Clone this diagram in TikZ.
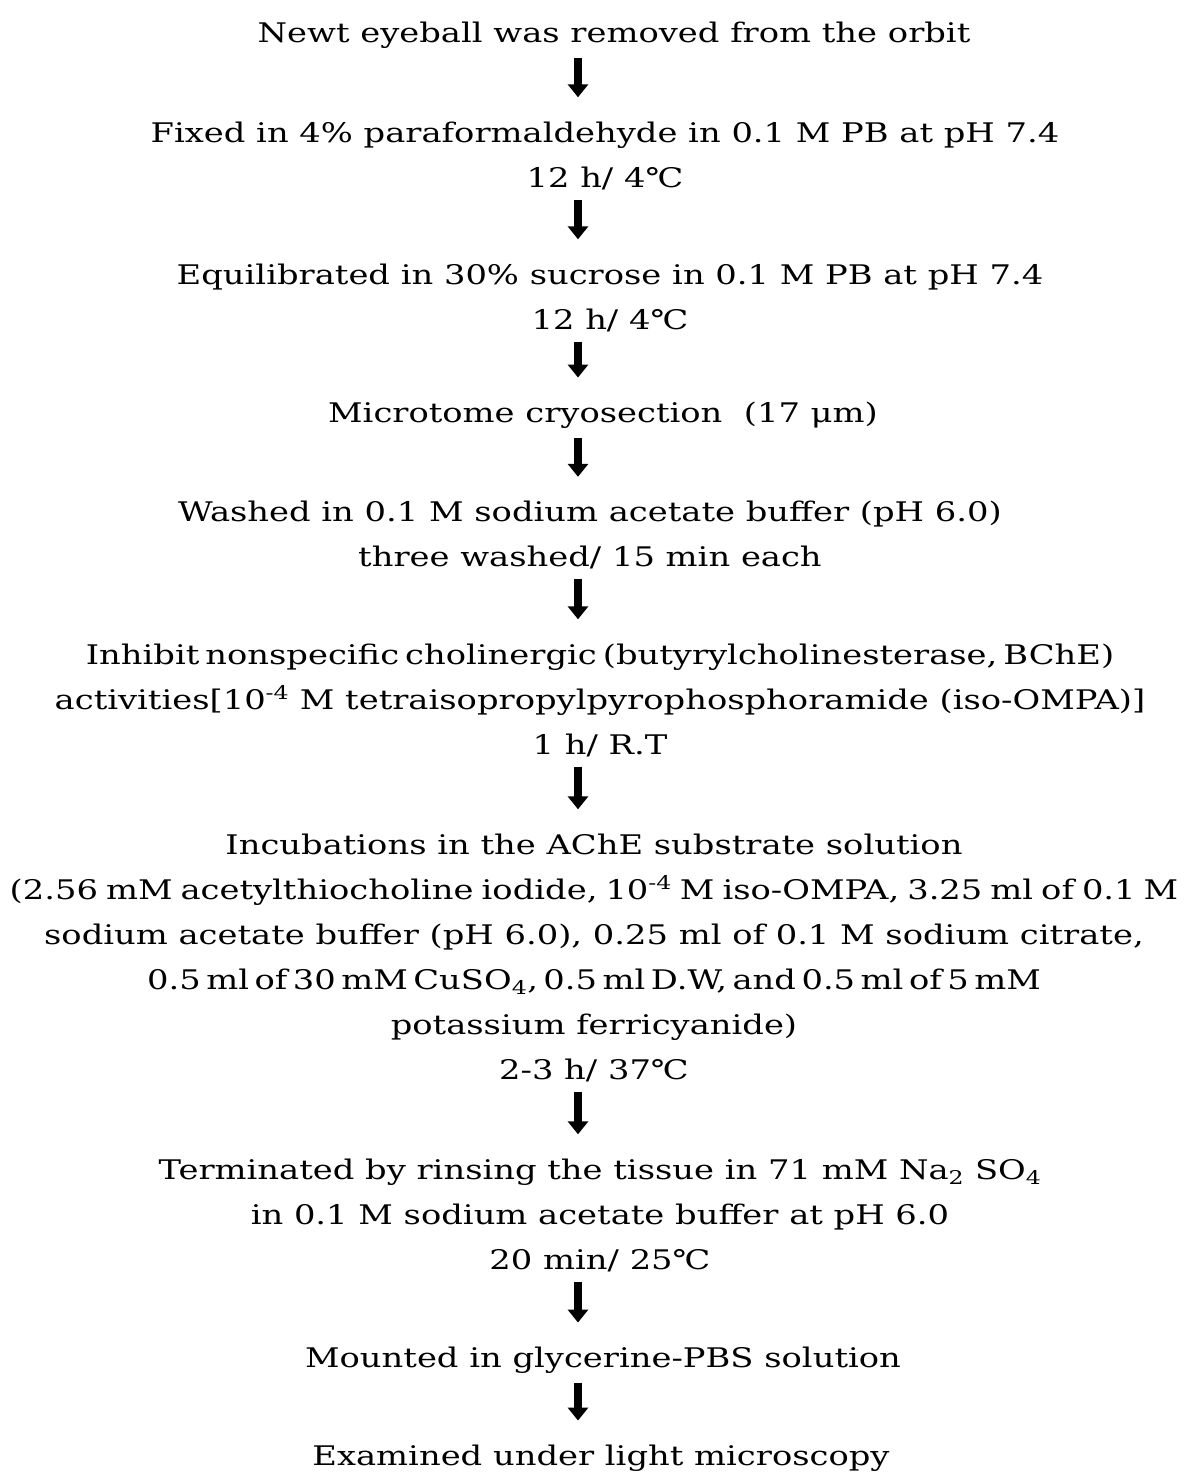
\documentclass[tikz,border=0pt]{standalone}
\usepackage{fontspec}
\setmainfont[FakeStretch=1.25]{DejaVu Serif}
\usetikzlibrary{arrows.meta}
\tikzset{
	stage/.style={align=center,inner sep=0pt,font=\fontsize{27}{45}\selectfont},
	down/.style={-{Triangle[width=20pt,length=13pt]},line width=8pt,shorten <=10pt,shorten >=24pt}
}
\begin{document}
\begin{tikzpicture}[x=1pt,y=-1pt]
	\useasboundingbox (0,0) rectangle (1190,1481);
	\node[stage] (eye) at (614,35) {Newt eyeball was removed from the orbit};
	\node[stage] (fix) at (605,155.5) {Fixed in 4\% paraformaldehyde in 0.1 M PB at pH 7.4\\12 h/ 4℃};
	\node[stage] (equ) at (610,297.5) {Equilibrated in 30\% sucrose in 0.1 M PB at pH 7.4\\12 h/ 4℃};
	\node[stage] (cut) at (603,415) {Microtome cryosection\ \ (17 μm)};
	\node[stage] (wash) at (590,535) {Washed in 0.1 M sodium acetate buffer (pH 6.0)\\three washed/ 15 min each};
	\node[stage] (inh) at (600,700) {{\spaceskip=6pt Inhibit nonspecific cholinergic (butyrylcholinesterase, BChE)}\\activities[10\textsuperscript{-4} M tetraisopropylpyrophosphoramide (iso-OMPA)]\\1 h/ R.T};
	\node[stage] (inc) at (594,957.5) {Incubations in the AChE substrate solution\\{\spaceskip=8pt (2.56 mM acetylthiocholine iodide, 10\textsuperscript{-4} M iso-OMPA, 3.25 ml of 0.1 M}\\sodium acetate buffer (pH 6.0), 0.25 ml of 0.1 M sodium citrate,\\{\spaceskip=5.5pt 0.5 ml of 30 mM CuSO\textsubscript{4}, 0.5 ml D.W, and 0.5 ml of 5 mM}\\potassium ferricyanide)\\2-3 h/ 37℃};
	\node[stage] (term) at (600,1215) {Terminated by rinsing the tissue in 71 mM Na\textsubscript{2} SO\textsubscript{4}\\in 0.1 M sodium acetate buffer at pH 6.0\\20 min/ 25℃};
	\node[stage] (mount) at (603,1360) {Mounted in glycerine-PBS solution};
	\node[stage] (exam) at (601,1458) {Examined under light microscopy};
	\draw[down] (eye.south -| 578,0) -- (fix.north -| 578,0);
	\draw[down] (fix.south -| 578,0) -- (equ.north -| 578,0);
	\draw[down] (equ.south -| 578,0) -- (cut.north -| 578,0);
	\draw[down] (cut.south -| 578,0) -- (wash.north -| 578,0);
	\draw[down] (wash.south -| 578,0) -- (inh.north -| 578,0);
	\draw[down] (inh.south -| 578,0) -- (inc.north -| 578,0);
	\draw[down] (inc.south -| 578,0) -- (term.north -| 578,0);
	\draw[down] (term.south -| 578,0) -- (mount.north -| 578,0);
	\draw[down] (mount.south -| 578,0) -- (exam.north -| 578,0);
\end{tikzpicture}
\end{document}
